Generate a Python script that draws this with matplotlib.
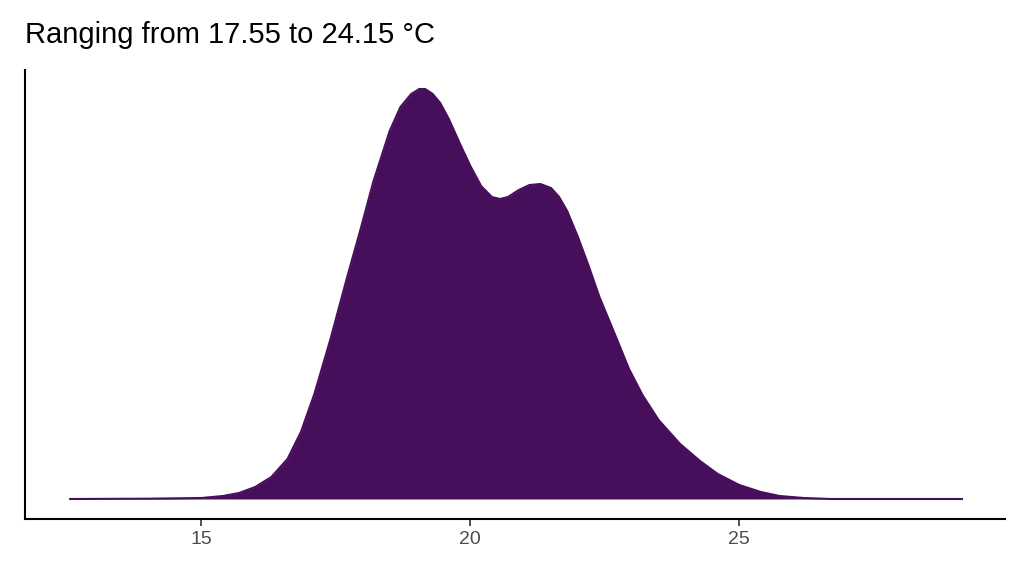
import numpy as np
import matplotlib.pyplot as plt

# density curve (temperature, relative density)
temps = [12.56, 14.0, 15.0, 15.4, 15.7, 16.0, 16.3, 16.6, 16.85, 17.1, 17.4, 17.7,
         17.95, 18.2, 18.5, 18.7, 18.9, 19.05, 19.16, 19.3, 19.44, 19.6, 19.8,
         20.0, 20.2, 20.4, 20.55, 20.7, 20.9, 21.1, 21.3, 21.5, 21.65, 21.8,
         22.0, 22.2, 22.4, 22.7, 22.95, 23.2, 23.5, 23.9, 24.27, 24.6, 25.0,
         25.4, 25.75, 26.2, 26.7, 29.14]
density = [0, 0.3, 1, 3, 6, 12, 22, 40, 67, 105, 160, 220,
           268, 318, 368, 392, 405, 410, 410, 405, 396, 380, 356,
           333, 313, 302, 300, 302, 309, 314, 315, 311, 302, 288,
           262, 233, 202, 163, 130, 104, 79, 55, 38, 25, 14,
           7, 3, 1, 0, 0]
xticks = [15, 20, 25]
title = "Ranging from 17.55 to 24.15 °C"

fill_col = "#470e5c"
plt.rcParams['font.family'] = ['Liberation Sans', 'DejaVu Sans']

fig = plt.figure(figsize=(10.24, 5.76), dpi=100)
ax = fig.add_axes([25 / 1024, 57 / 576, 980 / 1024, 449 / 576])

ax.fill_between(temps, density, 0, color=fill_col, lw=0)
ax.plot(temps, density, color=fill_col, lw=1.5)

ax.set_xlim(11.72, 29.94)
ax.set_ylim(-20, 429)
ax.set_xticks(xticks)
ax.set_xticklabels([str(t) for t in xticks], fontsize=14, color="#4d4d4d")
ax.set_yticks([])
ax.tick_params(axis="x", length=5, width=1.2, color="#333333", pad=4)
for s in ["top", "right"]:
    ax.spines[s].set_visible(False)
for s in ["left", "bottom"]:
    ax.spines[s].set_linewidth(1.5)

fig.text(25 / 1024, 1 - 35 / 576, title, fontsize=21, va="center", ha="left")

fig.savefig("out.png", dpi=100)
